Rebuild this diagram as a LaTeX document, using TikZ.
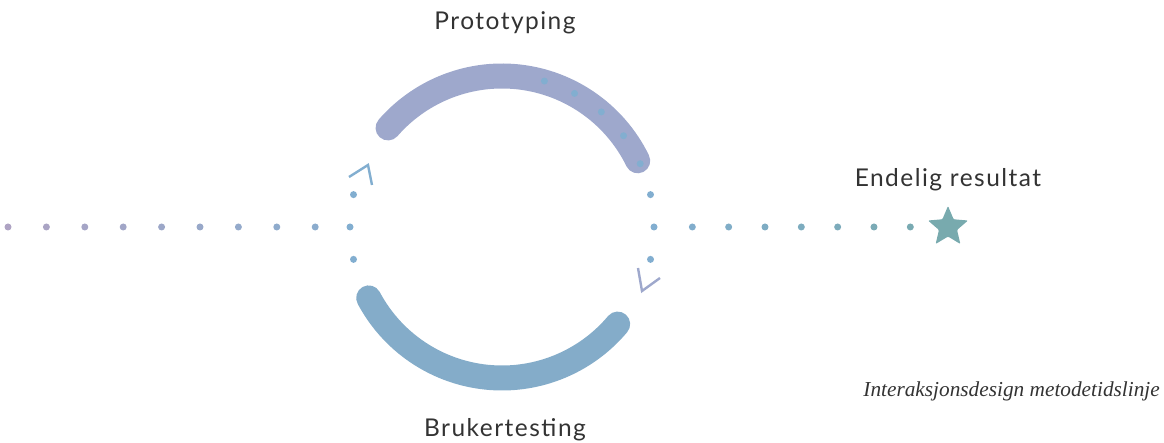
\documentclass[tikz,border=0pt]{standalone}
\usepackage{fontspec}
\setmainfont{Lato}[LetterSpace=6]
\newfontfamily\notefont{Liberation Serif}
\usetikzlibrary{shapes.geometric}

\definecolor{protoarc}{HTML}{9EA8CC}
\definecolor{testarc}{HTML}{84ACC9}
\definecolor{looppt}{HTML}{82AED0}
\definecolor{startpt}{HTML}{AEA3C3}
\definecolor{goalpt}{HTML}{78AAAE}
\definecolor{textgray}{HTML}{333333}

\tikzset{
  dot/.style={circle, inner sep=0pt, minimum size=7pt},
  phase/.style={line width=25pt, line cap=round},
  chev/.style={line width=2.4pt, line cap=butt, line join=miter},
  label/.style={text=textgray, font=\fontsize{24.5}{28}\selectfont, anchor=base, inner sep=0pt},
}

\begin{document}
\begin{tikzpicture}[x=1pt,y=1pt]
\useasboundingbox (0,0) rectangle (1164,443);
\coordinate (C) at (502,216);

% the two phase arcs of the loop
\draw[phase, protoarc] ([shift={(26:151)}]C) arc[start angle=26, end angle=139, radius=151];
\draw[phase, testarc] ([shift={(208:151)}]C) arc[start angle=208, end angle=320, radius=151];

% dotted track around the loop
\foreach \a [count=\i] in {73.8,61.5,49.2,36.9,24.6,12.3,0,-12.3,167.7,180,192.3}
  \node[dot, fill=looppt] (loop\i) at ([shift={(\a:152)}]C) {};

% incoming dotted line
\foreach \i in {0,...,8} {
  \pgfmathsetmacro\p{100*\i/10}
  \node[dot, fill=looppt!\p!startpt] (in\i) at ({8+38.4*\i},216) {};
}

% outgoing dotted line towards the result
\foreach \i in {1,...,7} {
  \pgfmathsetmacro\p{100*\i/8}
  \node[dot, fill=goalpt!\p!looppt] (out\i) at ({656+36.33*\i},216) {};
}

% final result
\node[star, star points=5, star point ratio=2.2, minimum size=42pt, inner sep=0pt,
      fill=goalpt, rounded corners=1pt] (goal) at (948,216) {};

% direction marks
\draw[chev, looppt] (349,266) -- (368,278) -- (372,258);
\draw[chev, protoarc] (638,175) -- (642,152) -- (660,165);

% labels
\node[label] (proto) at (505,413) {Prototyping};
\node[label] (test) at (505,6) {Brukertesting};
\node[label] (result) at (948,256) {Endelig resultat};
\node[text=textgray, font=\notefont\itshape\fontsize{21.3}{24}\selectfont, anchor=base east, inner sep=0pt]
  (title) at (1160,46) {Interaksjonsdesign metodetidslinje};
\end{tikzpicture}
\end{document}
